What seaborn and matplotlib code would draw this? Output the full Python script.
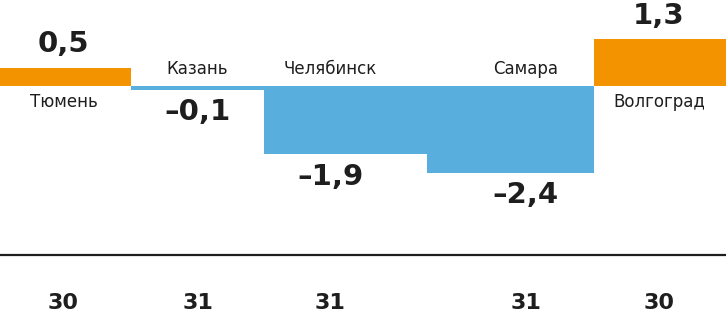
import matplotlib
matplotlib.use("Agg")
import matplotlib.pyplot as plt
import seaborn as sns
import pandas as pd
import numpy as np

cities = ["Тюмень", "Казань", "Челябинск", "Самара", "Волгоград"]
values = [0.5, -0.1, -1.9, -2.4, 1.3]
value_labels = ["0,5", "–0,1", "–1,9", "–2,4", "1,3"]
widths = [131, 133, 163, 167, 132]
bottom_numbers = ["30", "31", "31", "31", "30"]

label_shift = [-2, 0, -15, 15, -1]
ORANGE = "#F49300"
BLUE = "#58AFDD"
DARK = "#1E1E1E"

sns.set_theme(style="white")
plt.rcParams["font.family"] = ["DejaVu Sans"]

df = pd.DataFrame({"city": cities, "value": values,
                   "sign": ["pos" if v >= 0 else "neg" for v in values]})

fig = plt.figure(figsize=(7.26, 3.18), dpi=100)
ax = fig.add_axes([0, 0, 1, 1])
sns.barplot(data=df, x="city", y="value", hue="sign", order=cities,
            palette={"pos": ORANGE, "neg": BLUE}, dodge=False,
            legend=False, linewidth=0, edgecolor="none", saturation=1, ax=ax)

edges = np.concatenate([[0], np.cumsum(widths)])
for p in ax.patches:
    i = int(round(p.get_x() + p.get_width() / 2))
    if 0 <= i < len(cities):
        p.set_x(edges[i])
        p.set_width(widths[i])

ax.set_xlim(0, edges[-1])
ax.set_ylim(-6.44, 2.39)
ax.axis("off")

for i, (v, vl, city) in enumerate(zip(values, value_labels, cities)):
    cx = edges[i] + widths[i] / 2 + label_shift[i]
    if v >= 0:
        ax.annotate(vl, (cx, v), xytext=(0, 7), textcoords="offset points",
                    ha="center", va="bottom", fontsize=21, fontweight="bold", color=DARK)
        ax.annotate(city, (cx, 0), xytext=(0, -5), textcoords="offset points",
                    ha="center", va="top", fontsize=12, color=DARK)
    else:
        ax.annotate(vl, (cx, v), xytext=(0, -6), textcoords="offset points",
                    ha="center", va="top", fontsize=21, fontweight="bold", color=DARK)
        ax.annotate(city, (cx, 0), xytext=(0, 6), textcoords="offset points",
                    ha="center", va="bottom", fontsize=12, color=DARK)
    ax.text(cx, -6.03, bottom_numbers[i], ha="center", va="center",
            fontsize=16, fontweight="bold", color=DARK)

ax.axhline(-4.69, color=DARK, linewidth=1.6)

fig.savefig("out.png", dpi=100)
